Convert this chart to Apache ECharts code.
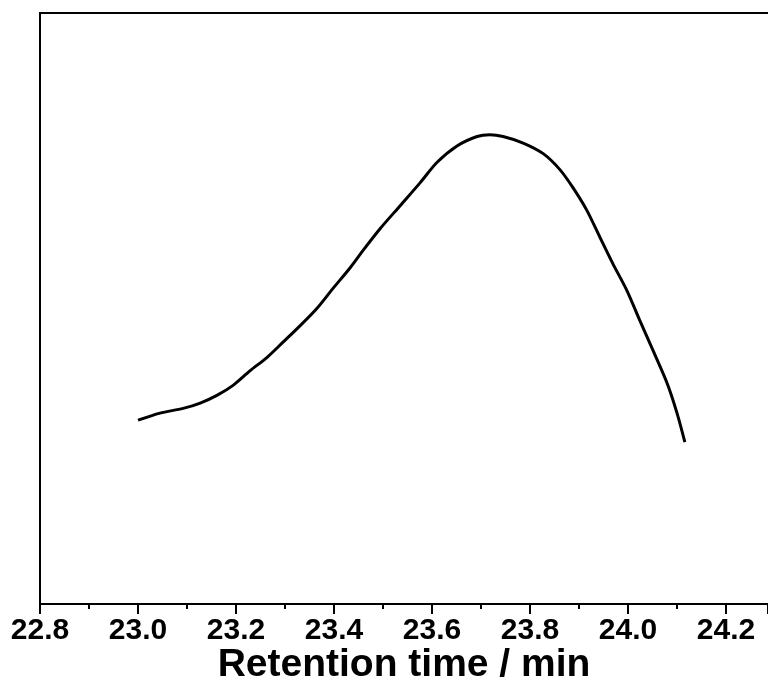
<!DOCTYPE html>
<html>
<head>
<meta charset="utf-8">
<script src="https://cdn.jsdelivr.net/npm/echarts@6/dist/echarts.min.js"></script>
<style>
  html, body { margin: 0; padding: 0; background: #fff; }
  #chart { width: 768px; height: 681px; }
</style>
</head>
<body>
<div id="chart"></div>
<script>
// retention time (min) and detector signal (arb. units)
const retentionTime = [
  23.000, 23.045, 23.092, 23.127, 23.161, 23.194, 23.229, 23.263, 23.296, 23.331,
  23.365, 23.398, 23.433, 23.459, 23.494, 23.535, 23.576, 23.610, 23.651, 23.692,
  23.718, 23.745, 23.786, 23.827, 23.861, 23.888, 23.916, 23.943, 23.969, 23.998,
  24.024, 24.051, 24.080, 24.100, 24.116
]
const signal = [
  31.1, 32.3, 33.1, 34.0, 35.3, 37.0, 39.5, 41.7, 44.3, 47.1,
  50.0, 53.4, 56.9, 59.8, 63.5, 67.4, 71.3, 74.7, 77.5, 79.1,
  79.4, 79.1, 78.0, 76.2, 73.5, 70.4, 66.6, 62.0, 57.6, 53.0,
  48.0, 42.9, 37.3, 32.3, 27.4
]
const xMin = 22.8
const xMax = 24.2857

const chartInstance = echarts.init(document.getElementById('chart'))

const points = retentionTime.map((t, i) => [t, signal[i]])

const option = {
  animation: false,
  backgroundColor: '#fff',
  grid: {
    left: 40,
    right: 0,
    top: 13,
    bottom: 77,
    outerBoundsMode: 'none',
    containLabel: false
  },
  xAxis: [
    {
      type: 'value',
      min: xMin,
      max: xMax,
      interval: 0.2,
      name: 'Retention time / min',
      nameLocation: 'middle',
      nameGap: 42,
      nameMoveOverlap: false,
      nameTextStyle: {
        fontFamily: 'Liberation Sans, Arial, sans-serif',
        fontWeight: 'bold',
        fontSize: 39,
        color: '#000'
      },
      axisLine: { lineStyle: { color: '#000', width: 2 } },
      axisTick: { length: 10, lineStyle: { color: '#000', width: 2 } },
      minorTick: { show: true, splitNumber: 2, length: 5, lineStyle: { color: '#000', width: 2 } },
      splitLine: { show: false },
      axisLabel: {
        showMaxLabel: false,
        margin: 12,
        fontFamily: 'Liberation Sans, Arial, sans-serif',
        fontWeight: 'bold',
        fontSize: 30,
        color: '#000',
        formatter: v => v.toFixed(1)
      }
    },
    {
      // top frame line only
      type: 'value',
      position: 'top',
      min: xMin,
      max: xMax,
      axisLine: { show: true, lineStyle: { color: '#000', width: 2 } },
      axisTick: { show: false },
      axisLabel: { show: false },
      splitLine: { show: false }
    }
  ],
  yAxis: {
    type: 'value',
    min: 0,
    max: 100,
    axisLine: { show: true, lineStyle: { color: '#000', width: 2 } },
    axisTick: { show: false },
    axisLabel: { show: false },
    splitLine: { show: false }
  },
  series: [
    {
      type: 'line',
      data: points,
      smooth: 0.3,
      showSymbol: false,
      lineStyle: { color: '#000', width: 3 }
    }
  ]
}

chartInstance.setOption(option)
</script>
</body>
</html>
